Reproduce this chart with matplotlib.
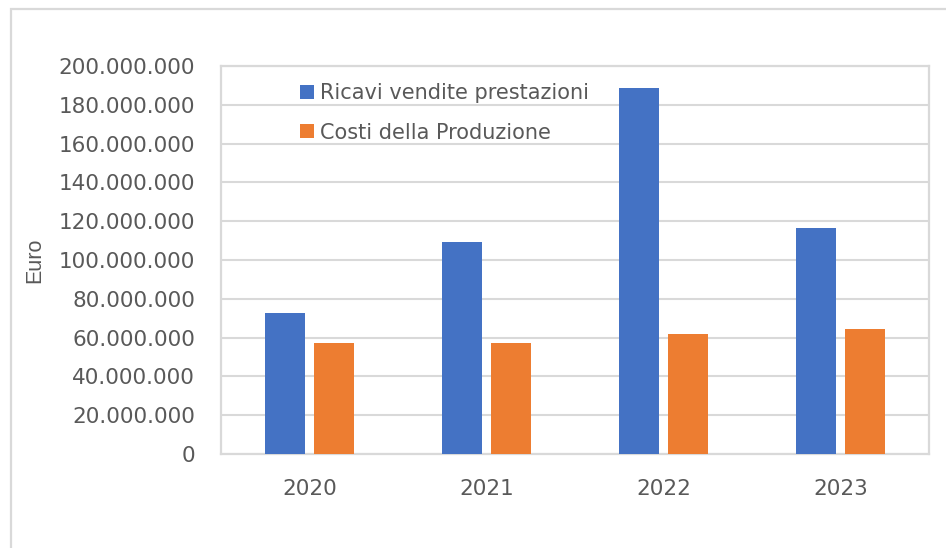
import matplotlib
matplotlib.use("Agg")
import matplotlib.pyplot as plt
from matplotlib.patches import Rectangle
from matplotlib.ticker import FuncFormatter
import numpy as np

# Data
years = ["2020", "2021", "2022", "2023"]
ricavi = [72.7e6, 109.3e6, 188.7e6, 116.5e6]
costi = [57.2e6, 57.2e6, 61.9e6, 64.4e6]
series_labels = ["Ricavi vendite prestazioni", "Costi della Produzione"]
y_ticks = [0, 20e6, 40e6, 60e6, 80e6, 100e6, 120e6, 140e6, 160e6, 180e6, 200e6]

BLUE = "#4472C4"
ORANGE = "#ED7D31"
GRID = "#D9D9D9"
TXT = "#595959"
FS = 15.5

plt.rcParams["font.family"] = ["DejaVu Sans"]

W, H = 946, 548
fig = plt.figure(figsize=(W / 100, H / 100), dpi=100)

# outer chart border
fig.patches.append(Rectangle((11 / W, -0.1), 1.2, 1.1 - 9 / H, transform=fig.transFigure,
                             fill=False, edgecolor=GRID, linewidth=1.6, zorder=0))

ax = fig.add_axes([221 / W, 1 - 454 / H, (929 - 221) / W, (454 - 66) / H])

x = np.arange(len(years))
bw = 0.226
off = 0.141
ax.bar(x - off, ricavi, width=bw, color=BLUE, label=series_labels[0], zorder=3)
ax.bar(x + off, costi, width=bw, color=ORANGE, label=series_labels[1], zorder=3)

ax.set_xlim(-0.5, len(years) - 0.5)
ax.set_ylim(0, 200e6)
ax.set_yticks(y_ticks)
ax.yaxis.set_major_formatter(FuncFormatter(lambda v, p: f"{int(v):,}".replace(",", ".")))
ax.set_xticks(x)
ax.set_xticklabels(years)

ax.grid(axis="y", color=GRID, linewidth=1.5, zorder=0)
ax.set_axisbelow(True)
for s in ax.spines.values():
    s.set_color(GRID)
    s.set_linewidth(1.6)

ax.tick_params(axis="both", length=0, labelsize=FS, labelcolor=TXT)
ax.tick_params(axis="y", pad=18.5)
ax.tick_params(axis="x", pad=18)

fig.text(35 / W, 1 - 260 / H, "Euro", rotation=90, ha="center", va="center",
         fontsize=15.5, color=TXT, family=["Liberation Sans", "DejaVu Sans"])

leg = ax.legend(loc="center left", bbox_to_anchor=(300 / W, 1 - 113 / H),
                bbox_transform=fig.transFigure, frameon=False, fontsize=15,
                handlelength=0.67, handleheight=0.67, handletextpad=0.3,
                labelspacing=0.92, borderpad=0, borderaxespad=0)
for t in leg.get_texts():
    t.set_color(TXT)

fig.savefig("out.png", dpi=100)
